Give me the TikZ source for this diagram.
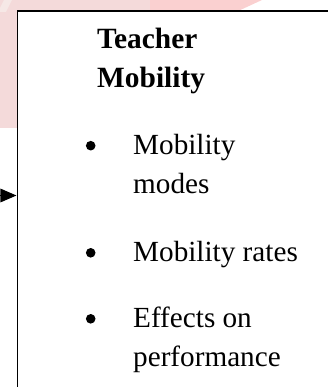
\documentclass[tikz,border=0pt]{standalone}
\usepackage{fontspec}
\setmainfont{Liberation Serif}
\usetikzlibrary{arrows.meta}
\definecolor{wmpink}{RGB}{244,218,218}
\definecolor{wmpinkb}{RGB}{250,208,208}
\definecolor{wmlight}{RGB}{246,232,230}
\tikzset{
  framebox/.style={draw=black, line width=1.8pt},
  itemtext/.style={anchor=base west, align=left, inner sep=0pt, font=\fontsize{29.2}{39}\selectfont},
  titletext/.style={anchor=base west, align=left, inner sep=0pt, font=\fontsize{29.4}{39}\selectfont\bfseries},
  bulletdot/.style={circle, fill=black, inner sep=0pt, minimum size=9.6pt},
  inarrow/.style={line width=1.2pt, -{Triangle[length=16pt,width=13.5pt]}}
}
\begin{document}
\begin{tikzpicture}[x=1pt,y=-1pt]
\useasboundingbox (0,0) rectangle (328,387);
\clip (0,0) rectangle (328,387);
% faint watermark behind the frame
\fill[wmpink] (0,0) rectangle (150,12);
\fill[wmpink] (0,0) rectangle (17,128);
\fill[wmpinkb] (150,0) -- (262,0) -- (236,12) -- (150,12) -- cycle;
\fill[wmlight] (4,0) -- (12,0) -- (6,12) -- (0,12) -- (0,8) -- cycle;
% frame of the box (continues beyond the picture)
\fill[white] (16.5,10.3) rectangle (360,420);
\node[framebox, anchor=north west, minimum width=360pt, minimum height=420pt, inner sep=0pt] (box) at (16.5,10.3) {};
% incoming arrow
\coordinate (src) at (-30,195.5);
\coordinate (in) at (box.west |- src);
\draw[inarrow] (src) -- (in);
% title (base anchor = baseline of the last line)
\node[titletext] (title) at (97,87.3) {Teacher\\Mobility};
% bullet items
\node[bulletdot] (b1) at (90.7,145.7) {};
\node[itemtext] (i1) at (133,193) {Mobility\\modes};
\node[bulletdot] (b2) at (90.7,252.8) {};
\node[itemtext] (i2) at (133,261) {Mobility rates};
\node[bulletdot] (b3) at (90.7,318.8) {};
\node[itemtext] (i3) at (133,366) {Effects on\\performance};
\end{tikzpicture}
\end{document}
